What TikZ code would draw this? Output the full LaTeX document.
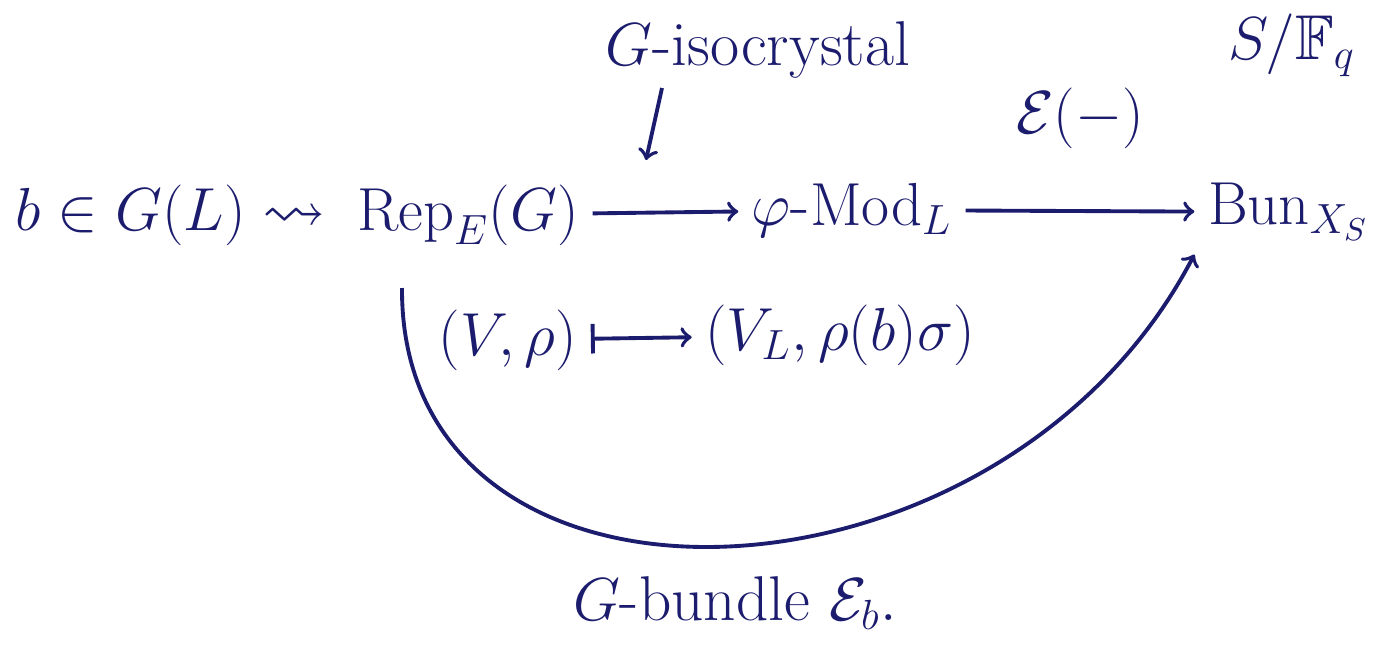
\documentclass[tikz,border=0pt]{standalone}
\usepackage{amsmath,amssymb}
\definecolor{ink}{RGB}{28,28,110}
\begin{document}
\begin{tikzpicture}[x=0.01cm,y=0.01cm,>=to,line width=1.1pt,color=ink,
  every node/.style={text=ink,font=\fontsize{18}{22}\selectfont}]
  \useasboundingbox (0,0) rectangle (1385,648);
  % main row
  \node[anchor=west] (b) at (2,433) {$b\in G(L)\rightsquigarrow$};
  \node (rep) at (468,433) {$\mathrm{Rep}_E(G)$};
  \node (mod) at (852,438) {$\varphi\text{-}\mathrm{Mod}_L$};
  \node[anchor=east] (bun) at (1383,436) {$\mathrm{Bun}_{X_S}$};
  \node (base) at (1292,603) {$S/\mathbb{F}_q$};
  \draw[->] (rep) -- (mod);
  \draw[->] (mod) -- node[above=14pt] {$\mathcal{E}(-)$} (bun);
  % G-isocrystal
  \node (iso) at (758,598) {$G\text{-isocrystal}$};
  \coordinate (isofoot) at (662,560);
  \coordinate (isotip) at (646,488);
  \draw[->] (isofoot) -- (isotip);
  % objects
  \node (vrho) at (508,308) {$(V,\rho)$};
  \node (vl)   at (840,313) {$(V_L,\rho(b)\sigma)$};
  \draw[|->] (vrho) -- (vl);
  % the G-bundle
  \coordinate (cstart) at (402,360);
  \draw[->] (cstart) .. controls (400,0) and (1000,20) .. (bun.south west);
  \node (gb) at (735,45) {$G\text{-bundle }\mathcal{E}_b.$};
\end{tikzpicture}
\end{document}
